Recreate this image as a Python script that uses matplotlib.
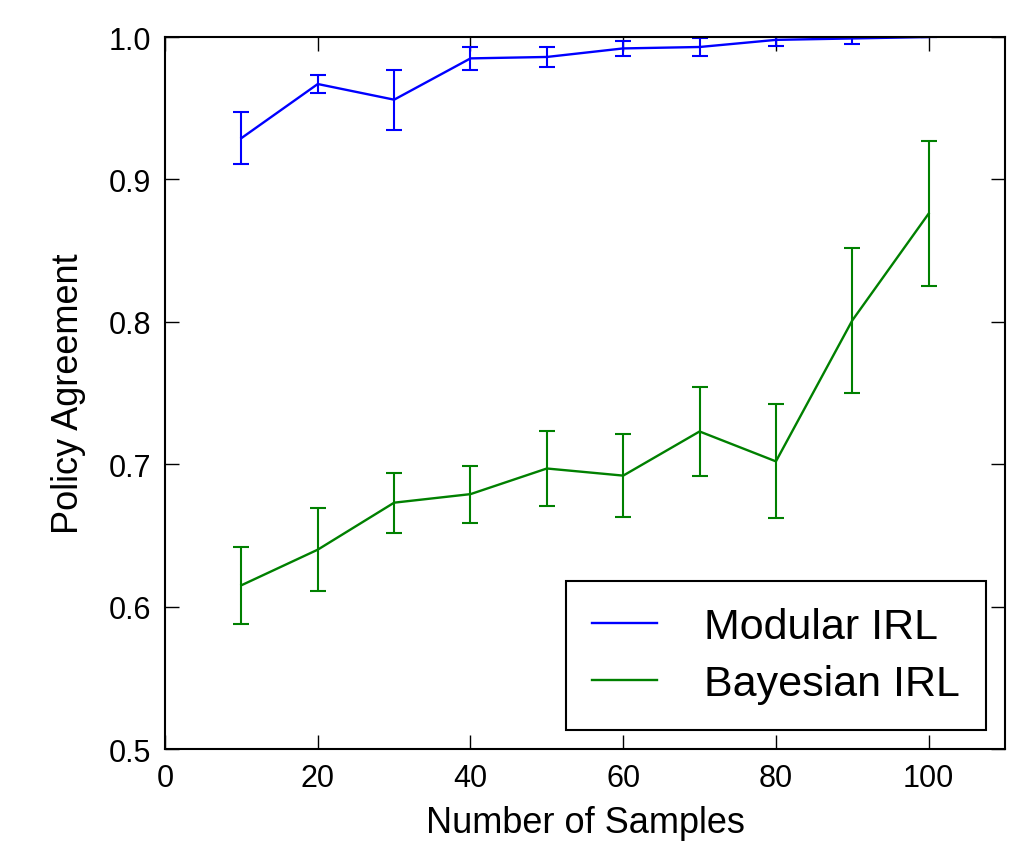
import matplotlib
matplotlib.use("Agg")
import matplotlib.pyplot as plt
from matplotlib.lines import Line2D

plt.rcParams['font.family'] = ['Liberation Sans', 'DejaVu Sans']

samples = [10, 20, 30, 40, 50, 60, 70, 80, 90, 100]
modular = [0.929, 0.967, 0.956, 0.985, 0.986, 0.992, 0.993, 0.998, 0.999, 1.000]
modular_err = [0.018, 0.006, 0.021, 0.008, 0.007, 0.005, 0.006, 0.004, 0.004, 0.0]
bayesian = [0.615, 0.640, 0.673, 0.679, 0.697, 0.692, 0.723, 0.702, 0.801, 0.876]
bayesian_err = [0.027, 0.029, 0.021, 0.020, 0.026, 0.029, 0.031, 0.040, 0.051, 0.051]

blue = (0, 0, 1)
green = (0, 0.5, 0)

fig = plt.figure(figsize=(10.27, 8.45), dpi=100)
ax = fig.add_axes([0.1607, 0.1124, 0.8179, 0.8426])

ax.errorbar(samples, modular, yerr=modular_err, color=blue, lw=1.7,
            elinewidth=1.5, capsize=6, capthick=1.5)
ax.errorbar(samples, bayesian, yerr=bayesian_err, color=green, lw=1.7,
            elinewidth=1.5, capsize=6, capthick=1.5)

ax.set_xlim(0, 110)
ax.set_ylim(0.5, 1.0)
ax.set_xticks([0, 20, 40, 60, 80, 100])
ax.set_yticks([0.5, 0.6, 0.7, 0.8, 0.9, 1.0])
ax.tick_params(direction='in', length=10, width=1, top=True, right=True,
               labelsize=22, pad=10)
for s in ax.spines.values():
    s.set_linewidth(1.5)

ax.set_xlabel("Number of Samples", fontsize=26, labelpad=9)
ax.set_ylabel("Policy Agreement", fontsize=26, labelpad=16)

handles = [Line2D([], [], color=blue, lw=1.7), Line2D([], [], color=green, lw=1.7)]
leg = ax.legend(handles, ['Modular IRL', 'Bayesian IRL'], loc='lower right',
                fontsize=31, fancybox=False, framealpha=1, edgecolor='black',
                handlelength=1.5, handletextpad=1.1, borderpad=0.6,
                labelspacing=0.4, borderaxespad=0.45)
leg.get_frame().set_linewidth(1.5)

fig.savefig("out.png", dpi=100)
